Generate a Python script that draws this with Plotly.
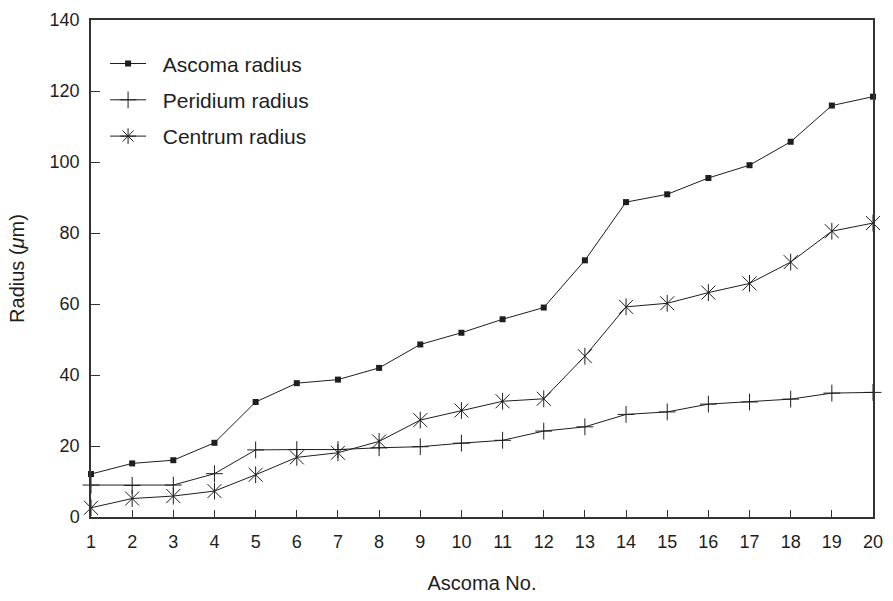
import plotly.graph_objects as go

# Ascoma number (x) and measured radii in micrometres
ascoma_no = list(range(1, 21))
ascoma_radius = [12.1, 15.1, 16.0, 20.9, 32.4, 37.7, 38.7, 42.0, 48.6, 51.9,
                 55.7, 59.0, 72.3, 88.7, 90.9, 95.5, 99.1, 105.7, 115.9, 118.4]
peridium_radius = [9.0, 8.9, 9.0, 12.2, 18.9, 19.0, 19.0, 19.5, 19.8, 20.8,
                   21.6, 24.2, 25.4, 28.9, 29.6, 31.8, 32.4, 33.2, 34.9, 35.1]
centrum_radius = [2.6, 5.2, 5.9, 7.3, 11.9, 16.8, 18.1, 21.3, 27.3, 30.0,
                  32.6, 33.3, 45.3, 59.2, 60.2, 63.2, 65.8, 71.8, 80.5, 82.8]

x_ticks = list(range(1, 21))
y_ticks = list(range(0, 141, 20))

INK = "#1e1e1e"
FONT = "Liberation Sans, Arial, Helvetica, sans-serif"
PAD = "\u00a0\u00a0"  # small gap between legend key and its label

fig = go.Figure()

fig.add_trace(go.Scatter(
    x=ascoma_no, y=ascoma_radius, name=PAD + "Ascoma radius",
    mode="lines+markers", legendgroup="a", cliponaxis=False,
    line=dict(color=INK, width=1),
    marker=dict(symbol="square", size=6, color=INK, line=dict(width=0)),
))

fig.add_trace(go.Scatter(
    x=ascoma_no, y=peridium_radius, name=PAD + "Peridium radius",
    mode="lines+markers", legendgroup="b", cliponaxis=False,
    line=dict(color=INK, width=1),
    marker=dict(symbol="cross-thin-open", size=12, color=INK,
                line=dict(width=1, color=INK)),
))

# Centrum: six-armed star = diagonal cross plus a vertical bar
fig.add_trace(go.Scatter(
    x=ascoma_no, y=centrum_radius, name="Centrum radius",
    mode="lines+markers", legendgroup="c", showlegend=False, cliponaxis=False,
    line=dict(color=INK, width=1),
    marker=dict(symbol="x-thin-open", size=14, color=INK,
                line=dict(width=1, color=INK)),
))
fig.add_trace(go.Scatter(
    x=ascoma_no, y=centrum_radius, name="Centrum radius",
    mode="markers", legendgroup="c", showlegend=False, cliponaxis=False,
    marker=dict(symbol="line-ns-open", size=12, color=INK,
                line=dict(width=1, color=INK)),
))
# legend key for the centrum series
fig.add_trace(go.Scatter(
    x=[None], y=[None], name=PAD + "Centrum radius",
    mode="lines+markers", legendgroup="c",
    line=dict(color=INK, width=1),
    marker=dict(symbol="asterisk-open", size=13, color=INK,
                line=dict(width=1, color=INK)),
))

axis_common = dict(
    showgrid=False, zeroline=False, showline=True, mirror=True,
    linecolor="#333333", linewidth=1.5,
    ticks="inside", tickcolor="#333333", tickwidth=1,
    tickfont=dict(family=FONT, size=18, color=INK),
)

fig.update_xaxes(
    **axis_common, range=[1, 20], tickmode="array", tickvals=x_ticks,
    ticklen=7, ticklabelstandoff=8,
    title=dict(text="Ascoma No.", font=dict(family=FONT, size=20, color=INK),
               standoff=25),
)
fig.update_yaxes(
    **axis_common, range=[0, 140], tickmode="array", tickvals=y_ticks,
    ticklen=9, ticklabelstandoff=6,
    title=dict(text="Radius (<i>μ</i>m)", font=dict(family=FONT, size=20, color=INK),
               standoff=20),
)

fig.update_layout(
    width=893, height=601,
    margin=dict(l=91, r=18, t=10, b=81),
    paper_bgcolor="white", plot_bgcolor="white",
    font=dict(family=FONT, size=18, color=INK),
    legend=dict(
        x=0.018, y=0.953, xanchor="left", yanchor="top",
        bgcolor="rgba(0,0,0,0)", borderwidth=0,
        traceorder="grouped", tracegroupgap=6, itemwidth=36,
        font=dict(family=FONT, size=21, color=INK),
    ),
)

fig.write_html("out.html")
